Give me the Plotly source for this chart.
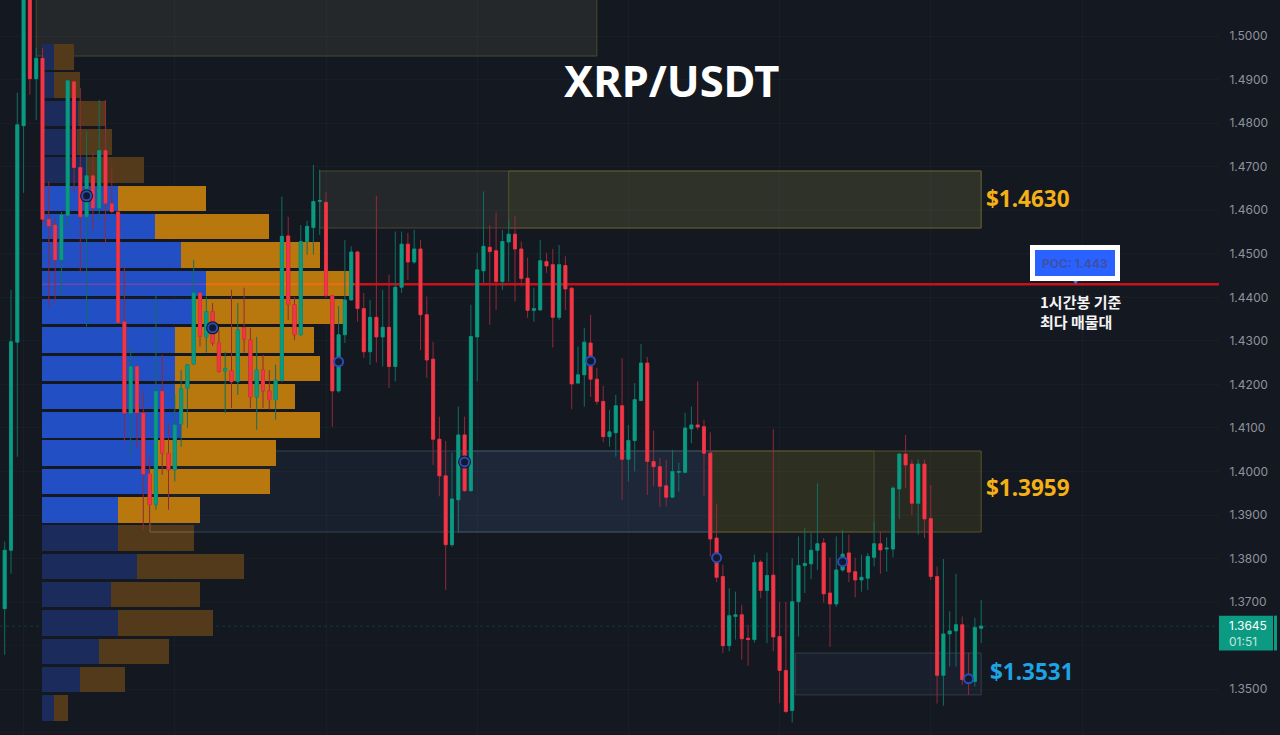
import plotly.graph_objects as go

BG = "#141821"
GREEN = "#0b9a82"
RED = "#f23645"
GRID = "rgba(255,255,255,0.025)"

# candles, one hour each, oldest first
OPEN = [1.3685, 1.3819, 1.4297, 1.4794, 1.5129, 1.4902, 1.4949, 1.4579, 1.4566, 1.4486,
        1.4588, 1.4895, 1.4698, 1.4585, 1.4679, 1.4605, 1.4737, 1.4615, 1.4596, 1.4344,
        1.4134, 1.4241, 1.4134, 1.3994, 1.3924, 1.4184, 1.4042, 1.4004, 1.4109, 1.4191,
        1.4247, 1.4410, 1.4309, 1.4367, 1.4295, 1.4231, 1.4231, 1.4207, 1.4330, 1.4302,
        1.4171, 1.4233, 1.4185, 1.4165, 1.4210, 1.4541, 1.4383, 1.4314, 1.4528, 1.4560,
        1.4620, 1.4618, 1.4404, 1.4185, 1.4314, 1.4394, 1.4504, 1.4374, 1.4275, 1.4354,
        1.4309, 1.4331, 1.4241, 1.4423, 1.4522, 1.4481, 1.4511, 1.4360, 1.4258, 1.4074,
        1.3990, 1.3832, 1.3935, 1.4084, 1.3956, 1.4309, 1.4461, 1.4515, 1.4507, 1.4436,
        1.4527, 1.4545, 1.4511, 1.4444, 1.4370, 1.4371, 1.4482, 1.4475, 1.4354, 1.4473,
        1.4421, 1.4203, 1.4222, 1.4295, 1.4212, 1.4161, 1.4080, 1.4089, 1.4151, 1.4028,
        1.4071, 1.4163, 1.4249, 1.4023, 1.4011, 1.3967, 1.3941, 1.3998, 1.3998, 1.4098,
        1.4107, 1.4103, 1.4042, 1.3847, 1.3759, 1.3600, 1.3667, 1.3671, 1.3617, 1.3614,
        1.3792, 1.3727, 1.3762, 1.3621, 1.3543, 1.3451, 1.3701, 1.3784, 1.3788, 1.3819,
        1.3836, 1.3721, 1.3696, 1.3774, 1.3813, 1.3770, 1.3751, 1.3755, 1.3803, 1.3834,
        1.3822, 1.3822, 1.3960, 1.4040, 1.4017, 1.3927, 1.4017, 1.3892, 1.3759, 1.3532,
        1.3627, 1.3634, 1.3648, 1.3529, 1.3518, 1.3640]
HIGH = [1.3839, 1.4417, 1.4870, 1.5150, 1.5150, 1.4973, 1.4973, 1.4666, 1.4582, 1.4596,
        1.4899, 1.4897, 1.4881, 1.4781, 1.4732, 1.4853, 1.4853, 1.4700, 1.4600, 1.4471,
        1.4287, 1.4243, 1.4184, 1.4034, 1.4406, 1.4268, 1.4110, 1.4176, 1.4233, 1.4247,
        1.4486, 1.4412, 1.4402, 1.4387, 1.4325, 1.4275, 1.4417, 1.4387, 1.4422, 1.4330,
        1.4309, 1.4268, 1.4233, 1.4245, 1.4631, 1.4585, 1.4401, 1.4566, 1.4576, 1.4704,
        1.4693, 1.4641, 1.4406, 1.4380, 1.4532, 1.4517, 1.4507, 1.4410, 1.4394, 1.4633,
        1.4417, 1.4452, 1.4551, 1.4551, 1.4548, 1.4555, 1.4532, 1.4402, 1.4298, 1.4126,
        1.4070, 1.4043, 1.4149, 1.4126, 1.4383, 1.4502, 1.4643, 1.4566, 1.4595, 1.4555,
        1.4578, 1.4587, 1.4528, 1.4491, 1.4422, 1.4532, 1.4502, 1.4511, 1.4520, 1.4494,
        1.4423, 1.4287, 1.4330, 1.4360, 1.4238, 1.4197, 1.4142, 1.4176, 1.4260, 1.4107,
        1.4203, 1.4293, 1.4263, 1.4094, 1.4031, 1.4027, 1.4050, 1.4020, 1.4135, 1.4149,
        1.4207, 1.4119, 1.4090, 1.3926, 1.3786, 1.3732, 1.3724, 1.3694, 1.3648, 1.3809,
        1.3797, 1.3814, 1.4097, 1.3701, 1.3701, 1.3801, 1.3851, 1.3870, 1.3859, 1.3973,
        1.3847, 1.3802, 1.3851, 1.3866, 1.3855, 1.3802, 1.3809, 1.3813, 1.3885, 1.3862,
        1.3849, 1.3966, 1.4042, 1.4084, 1.4027, 1.4028, 1.4027, 1.3969, 1.3782, 1.3799,
        1.3679, 1.3765, 1.3667, 1.3584, 1.3664, 1.3705]
LOW = [1.3579, 1.3765, 1.4034, 1.4640, 1.4865, 1.4807, 1.4566, 1.4379, 1.4390, 1.4406,
       1.4555, 1.4640, 1.4456, 1.4333, 1.4555, 1.4578, 1.4520, 1.4593, 1.4340, 1.4069,
       1.4034, 1.4054, 1.3866, 1.3866, 1.3912, 1.3992, 1.3912, 1.3977, 1.4057, 1.4100,
       1.4245, 1.4287, 1.4273, 1.4289, 1.4227, 1.4134, 1.4146, 1.4176, 1.4273, 1.4146,
       1.4096, 1.4146, 1.4142, 1.4119, 1.4205, 1.4348, 1.4302, 1.4312, 1.4498, 1.4498,
       1.4543, 1.4399, 1.4103, 1.4181, 1.4295, 1.4392, 1.4344, 1.4261, 1.4245, 1.4250,
       1.4241, 1.4192, 1.4207, 1.4410, 1.4440, 1.4477, 1.4279, 1.4215, 1.4015, 1.3943,
       1.3728, 1.3827, 1.3859, 1.3953, 1.3953, 1.4207, 1.4433, 1.4337, 1.4371, 1.4417,
       1.4436, 1.4390, 1.4425, 1.4353, 1.4344, 1.4369, 1.4456, 1.4285, 1.4348, 1.4371,
       1.4143, 1.4201, 1.4149, 1.4171, 1.4153, 1.4067, 1.4057, 1.4034, 1.3935, 1.3977,
       1.4000, 1.4161, 1.3946, 1.3966, 1.3918, 1.3920, 1.3939, 1.3954, 1.3996, 1.4065,
       1.4096, 1.3944, 1.3805, 1.3746, 1.3583, 1.3587, 1.3614, 1.3568, 1.3554, 1.3607,
       1.3709, 1.3606, 1.3587, 1.3468, 1.3445, 1.3424, 1.3621, 1.3721, 1.3753, 1.3774,
       1.3699, 1.3597, 1.3689, 1.3770, 1.3746, 1.3711, 1.3724, 1.3728, 1.3782, 1.3765,
       1.3770, 1.3803, 1.3891, 1.3962, 1.3900, 1.3855, 1.3847, 1.3751, 1.3467, 1.3462,
       1.3552, 1.3552, 1.3510, 1.3487, 1.3506, 1.3606]
CLOSE = [1.3819, 1.4298, 1.4796, 1.5129, 1.4902, 1.4949, 1.4579, 1.4564, 1.4486, 1.4589,
         1.4897, 1.4698, 1.4585, 1.4679, 1.4605, 1.4737, 1.4616, 1.4597, 1.4342, 1.4134,
         1.4241, 1.4135, 1.3994, 1.3924, 1.4184, 1.4042, 1.4004, 1.4107, 1.4190, 1.4245,
         1.4410, 1.4310, 1.4367, 1.4295, 1.4230, 1.4236, 1.4206, 1.4325, 1.4304, 1.4171,
         1.4233, 1.4185, 1.4165, 1.4210, 1.4540, 1.4383, 1.4314, 1.4528, 1.4563, 1.4620,
         1.4622, 1.4404, 1.4185, 1.4314, 1.4394, 1.4504, 1.4374, 1.4275, 1.4354, 1.4309,
         1.4331, 1.4241, 1.4423, 1.4522, 1.4481, 1.4511, 1.4360, 1.4256, 1.4074, 1.3990,
         1.3832, 1.3937, 1.4084, 1.3956, 1.4310, 1.4463, 1.4517, 1.4505, 1.4436, 1.4528,
         1.4545, 1.4511, 1.4443, 1.4370, 1.4374, 1.4484, 1.4472, 1.4354, 1.4475, 1.4419,
         1.4201, 1.4222, 1.4297, 1.4212, 1.4161, 1.4080, 1.4091, 1.4151, 1.4028, 1.4071,
         1.4165, 1.4249, 1.4023, 1.4011, 1.3966, 1.3941, 1.4000, 1.4000, 1.4100, 1.4107,
         1.4102, 1.4042, 1.3845, 1.3757, 1.3600, 1.3669, 1.3671, 1.3616, 1.3614, 1.3791,
         1.3727, 1.3761, 1.3620, 1.3543, 1.3449, 1.3701, 1.3784, 1.3789, 1.3819, 1.3834,
         1.3719, 1.3696, 1.3774, 1.3810, 1.3769, 1.3751, 1.3757, 1.3805, 1.3834, 1.3820,
         1.3824, 1.3962, 1.4040, 1.4015, 1.3927, 1.4017, 1.3891, 1.3759, 1.3532, 1.3627,
         1.3634, 1.3648, 1.3522, 1.3515, 1.3642, 1.3645]
INDEX = list(range(len(OPEN)))

# volume profile rows, top to bottom
ROW_PRICE = [1.4952, 1.4887, 1.4822, 1.4757, 1.4692, 1.4627, 1.4562, 1.4497, 1.4432, 1.4367, 1.4302, 1.4237,
             1.4172, 1.4107, 1.4042, 1.3977, 1.3912, 1.3847, 1.3782, 1.3717, 1.3652, 1.3587, 1.3522, 1.3457]
ROW_BUY = [12, 12, 36, 35, 44, 76, 113, 139, 164, 152, 133, 133, 133, 139, 115, 107, 76, 76, 95, 69, 76, 57, 38, 12]
ROW_SELL = [20, 26, 28, 35, 58, 88, 114, 139, 147, 149, 139, 145, 120, 139, 119, 121, 82, 76, 107, 89, 95, 70, 45, 14]
VALUE_AREA = range(5, 17)

POC_PRICE = 1.443
LAST_PRICE = 1.3645
MARK_IDX = [13, 33, 53, 73, 93, 113, 133, 153]
MARK_PRICE = [1.4633, 1.4330, 1.4252, 1.4022, 1.4254, 1.3802, 1.3793, 1.3524]
HEAVY_IDX = [13, 33, 73]
HEAVY_PRICE = [1.4633, 1.4330, 1.4022]

# the 1.36 label sits behind the live price tag
TICK_PRICES = [1.50, 1.49, 1.48, 1.47, 1.46, 1.45, 1.44, 1.43, 1.42, 1.41, 1.40, 1.39, 1.38, 1.37, 1.35, 1.34]
HIDDEN_TICK = 1.36

# price zones: first candle, last candle, top, bottom
GREY_ZONES = [(5, 94, 1.5200, 1.4954), (50, 155, 1.4690, 1.4559)]
OLIVE_TOP = [(80, 155, 1.4690, 1.4559)]
OLIVE_MID = [(112.2, 155, 1.4047, 1.3861)]
OLIVE_LEFT = [(112.2, 138, 1.4047, 1.3861)]
BLUE_ZONES = [(23, 112.2, 1.4047, 1.3861), (72, 112.2, 1.4047, 1.3861)]
LOW_ZONES = [(125.5, 155, 1.3583, 1.3487)]

buy_colors = ["#234fc4" if i in VALUE_AREA else "#1b2b5c" for i in range(len(ROW_PRICE))]
sell_colors = ["#b9780e" if i in VALUE_AREA else "#533a1a" for i in range(len(ROW_PRICE))]

fig = go.Figure()

# profile lives on the plain x axis so it stays under the candles
fig.add_trace(go.Bar(y=ROW_PRICE, x=ROW_BUY, orientation='h', width=0.00585,
                     marker=dict(color=buy_colors, line=dict(width=0)), hoverinfo='skip'))
fig.add_trace(go.Bar(y=ROW_PRICE, x=ROW_SELL, orientation='h', width=0.00585,
                     marker=dict(color=sell_colors, line=dict(width=0)), hoverinfo='skip'))

# corner of the blue zone showing over the dim rows
fig.add_trace(go.Scatter(x=[108, 108, 152], y=[1.3885, 1.3861, 1.3861], mode='lines',
                         line=dict(color="#7d6440", width=1), hoverinfo='skip'))

# POC line changes look where it crosses the profile
for x0, x1, color, width in [(0, 164, "#6d4aa6", 1.5), (164, 312, "#f06c10", 2), (312, 1177, "#cc1019", 2.5)]:
    fig.add_trace(go.Scatter(x=[x0, x1], y=[POC_PRICE, POC_PRICE], mode='lines',
                             line=dict(color=color, width=width), hoverinfo='skip'))

# wicks are dimmer than the bodies, so two passes
fig.add_trace(go.Candlestick(x=INDEX, open=OPEN, high=HIGH, low=LOW, close=CLOSE, xaxis='x2', whiskerwidth=0,
                             increasing=dict(line=dict(color="#0f6f63", width=1), fillcolor=GREEN),
                             decreasing=dict(line=dict(color="#93293a", width=1), fillcolor=RED),
                             hoverinfo='skip'))
body_high = [max(o, c) for o, c in zip(OPEN, CLOSE)]
body_low = [min(o, c) for o, c in zip(OPEN, CLOSE)]
fig.add_trace(go.Candlestick(x=INDEX, open=OPEN, high=body_high, low=body_low, close=CLOSE, xaxis='x2', whiskerwidth=0,
                             increasing=dict(line=dict(color=GREEN, width=0.5), fillcolor=GREEN),
                             decreasing=dict(line=dict(color=RED, width=0.5), fillcolor=RED),
                             hoverinfo='skip'))

fig.add_trace(go.Scatter(x=HEAVY_IDX, y=HEAVY_PRICE, mode='markers', xaxis='x2',
                         marker=dict(symbol='circle', size=13, color="#10141e", line=dict(width=0)),
                         hoverinfo='skip'))
fig.add_trace(go.Scatter(x=MARK_IDX, y=MARK_PRICE, mode='markers', xaxis='x2',
                         marker=dict(symbol='circle', size=9, color="#121a30", line=dict(color="#2a4cb4", width=2)),
                         hoverinfo='skip'))
fig.add_trace(go.Scatter(x=[170], y=[1.4437], mode='markers', xaxis='x2',
                         marker=dict(symbol='triangle-down', size=6, color="#3f74ff", line=dict(width=0)),
                         hoverinfo='skip'))


def add_zones(zones, fill, border):
    for x0, x1, top, bottom in zones:
        fig.add_shape(type='rect', xref='x2', yref='y', x0=x0, x1=x1, y0=bottom, y1=top, layer='below',
                      fillcolor=fill, line=dict(color=border, width=0.8))


add_zones(GREY_ZONES, "rgba(100,105,80,0.2)", "#55542f")
add_zones(OLIVE_TOP, "rgba(115,110,40,0.15)", "#5f5d30")
add_zones(OLIVE_MID, "rgba(115,110,40,0.22)", "#64622f")
add_zones(OLIVE_LEFT, "rgba(115,110,30,0.08)", "#55542f")
add_zones(BLUE_ZONES, "rgba(60,90,130,0.13)", "#3a525e")
add_zones(LOW_ZONES, "rgba(60,80,110,0.14)", "#394650")

fig.add_shape(type='line', xref='paper', yref='y', x0=0, x1=1, y0=HIDDEN_TICK, y1=HIDDEN_TICK, layer='below',
              line=dict(color=GRID, width=1))
fig.add_shape(type='line', xref='paper', yref='y', x0=0, x1=1, y0=LAST_PRICE, y1=LAST_PRICE, layer='below',
              line=dict(color="#0d3b3d", width=1, dash='dot'))

# live price tag, with the thin strip beside it
fig.add_shape(type='rect', xref='paper', yref='y', x0=1.0, x1=1.0443, y0=1.3589, y1=1.3669, layer='above',
              fillcolor=GREEN, line=dict(width=0))
fig.add_shape(type='rect', xref='paper', yref='y', x0=1.0451, x1=1.0476, y0=1.3589, y1=1.3669, layer='above',
              fillcolor=GREEN, line=dict(width=0))


def label(text, x, y, size, color, xref='x2', xanchor='left', family="Noto Sans", **kw):
    fig.add_annotation(text=text, x=x, y=y, xref=xref, yref='y', xanchor=xanchor, yanchor='middle', showarrow=False,
                       font=dict(family=family, size=size, color=color), **kw)


label("<b>XRP/USDT</b>", 0.5505, 1.4898, 43.5, "#ffffff", xref='paper', xanchor='center')
label("<b>$1.4630</b>", 155.5, 1.4626, 22.5, "#f5b015")
label("<b>$1.3959</b>", 155.4, 1.3964, 22.5, "#f5b015")
label("<b>$1.3531</b>", 156.1, 1.3540, 22.5, "#1ea3e4")
label("<b>POC: 1.443</b>", 169.9, 1.4479, 12, "#3f50a8", xanchor='center', family="Inter",
      bgcolor="#2962ff", bordercolor="#ffffff", borderwidth=5, borderpad=0, width=80, height=26)
label("<b>1시간봉 기준<br>최다 매물대</b>", 164, 1.4367, 15, "#f4f4f4", family="Noto Sans CJK KR", align='left')
label("1.3645<br><span style='color:#c3e6de'>01:51</span>", 1.0074, 1.3628, 12, "#ffffff", xref='paper', family="Inter",
      align='left', borderpad=0)

fig.update_layout(
    width=1280, height=735,
    margin=dict(l=0, r=61, t=0, b=0),
    paper_bgcolor=BG, plot_bgcolor=BG,
    barmode='stack', showlegend=False, hovermode=False,
    xaxis=dict(range=[-42, 1177], showticklabels=False, ticks='', showline=False, zeroline=False, fixedrange=True,
               tickvals=[-18.4, 132.8, 284, 435.2, 586.4, 737.6, 888.8, 1040],
               showgrid=True, gridcolor=GRID, gridwidth=1),
    xaxis2=dict(range=[-0.746, 192.75], overlaying='x', side='bottom', showticklabels=False, ticks='',
                showgrid=False, zeroline=False, showline=False,
                rangeslider=dict(visible=False), fixedrange=True),
    yaxis=dict(range=[1.33949, 1.50827], side='right', tickvals=TICK_PRICES, tickformat='.4f',
               showgrid=True, gridcolor=GRID, gridwidth=1, zeroline=False, showline=False,
               ticks='outside', ticklen=7, tickcolor=BG, tickfont=dict(family="Inter", size=12, color="#8f939c"),
               fixedrange=True),
)

fig.write_html("out.html", config=dict(displayModeBar=False),
               post_script="document.body.style.margin='0';document.body.style.background='#141821';")
